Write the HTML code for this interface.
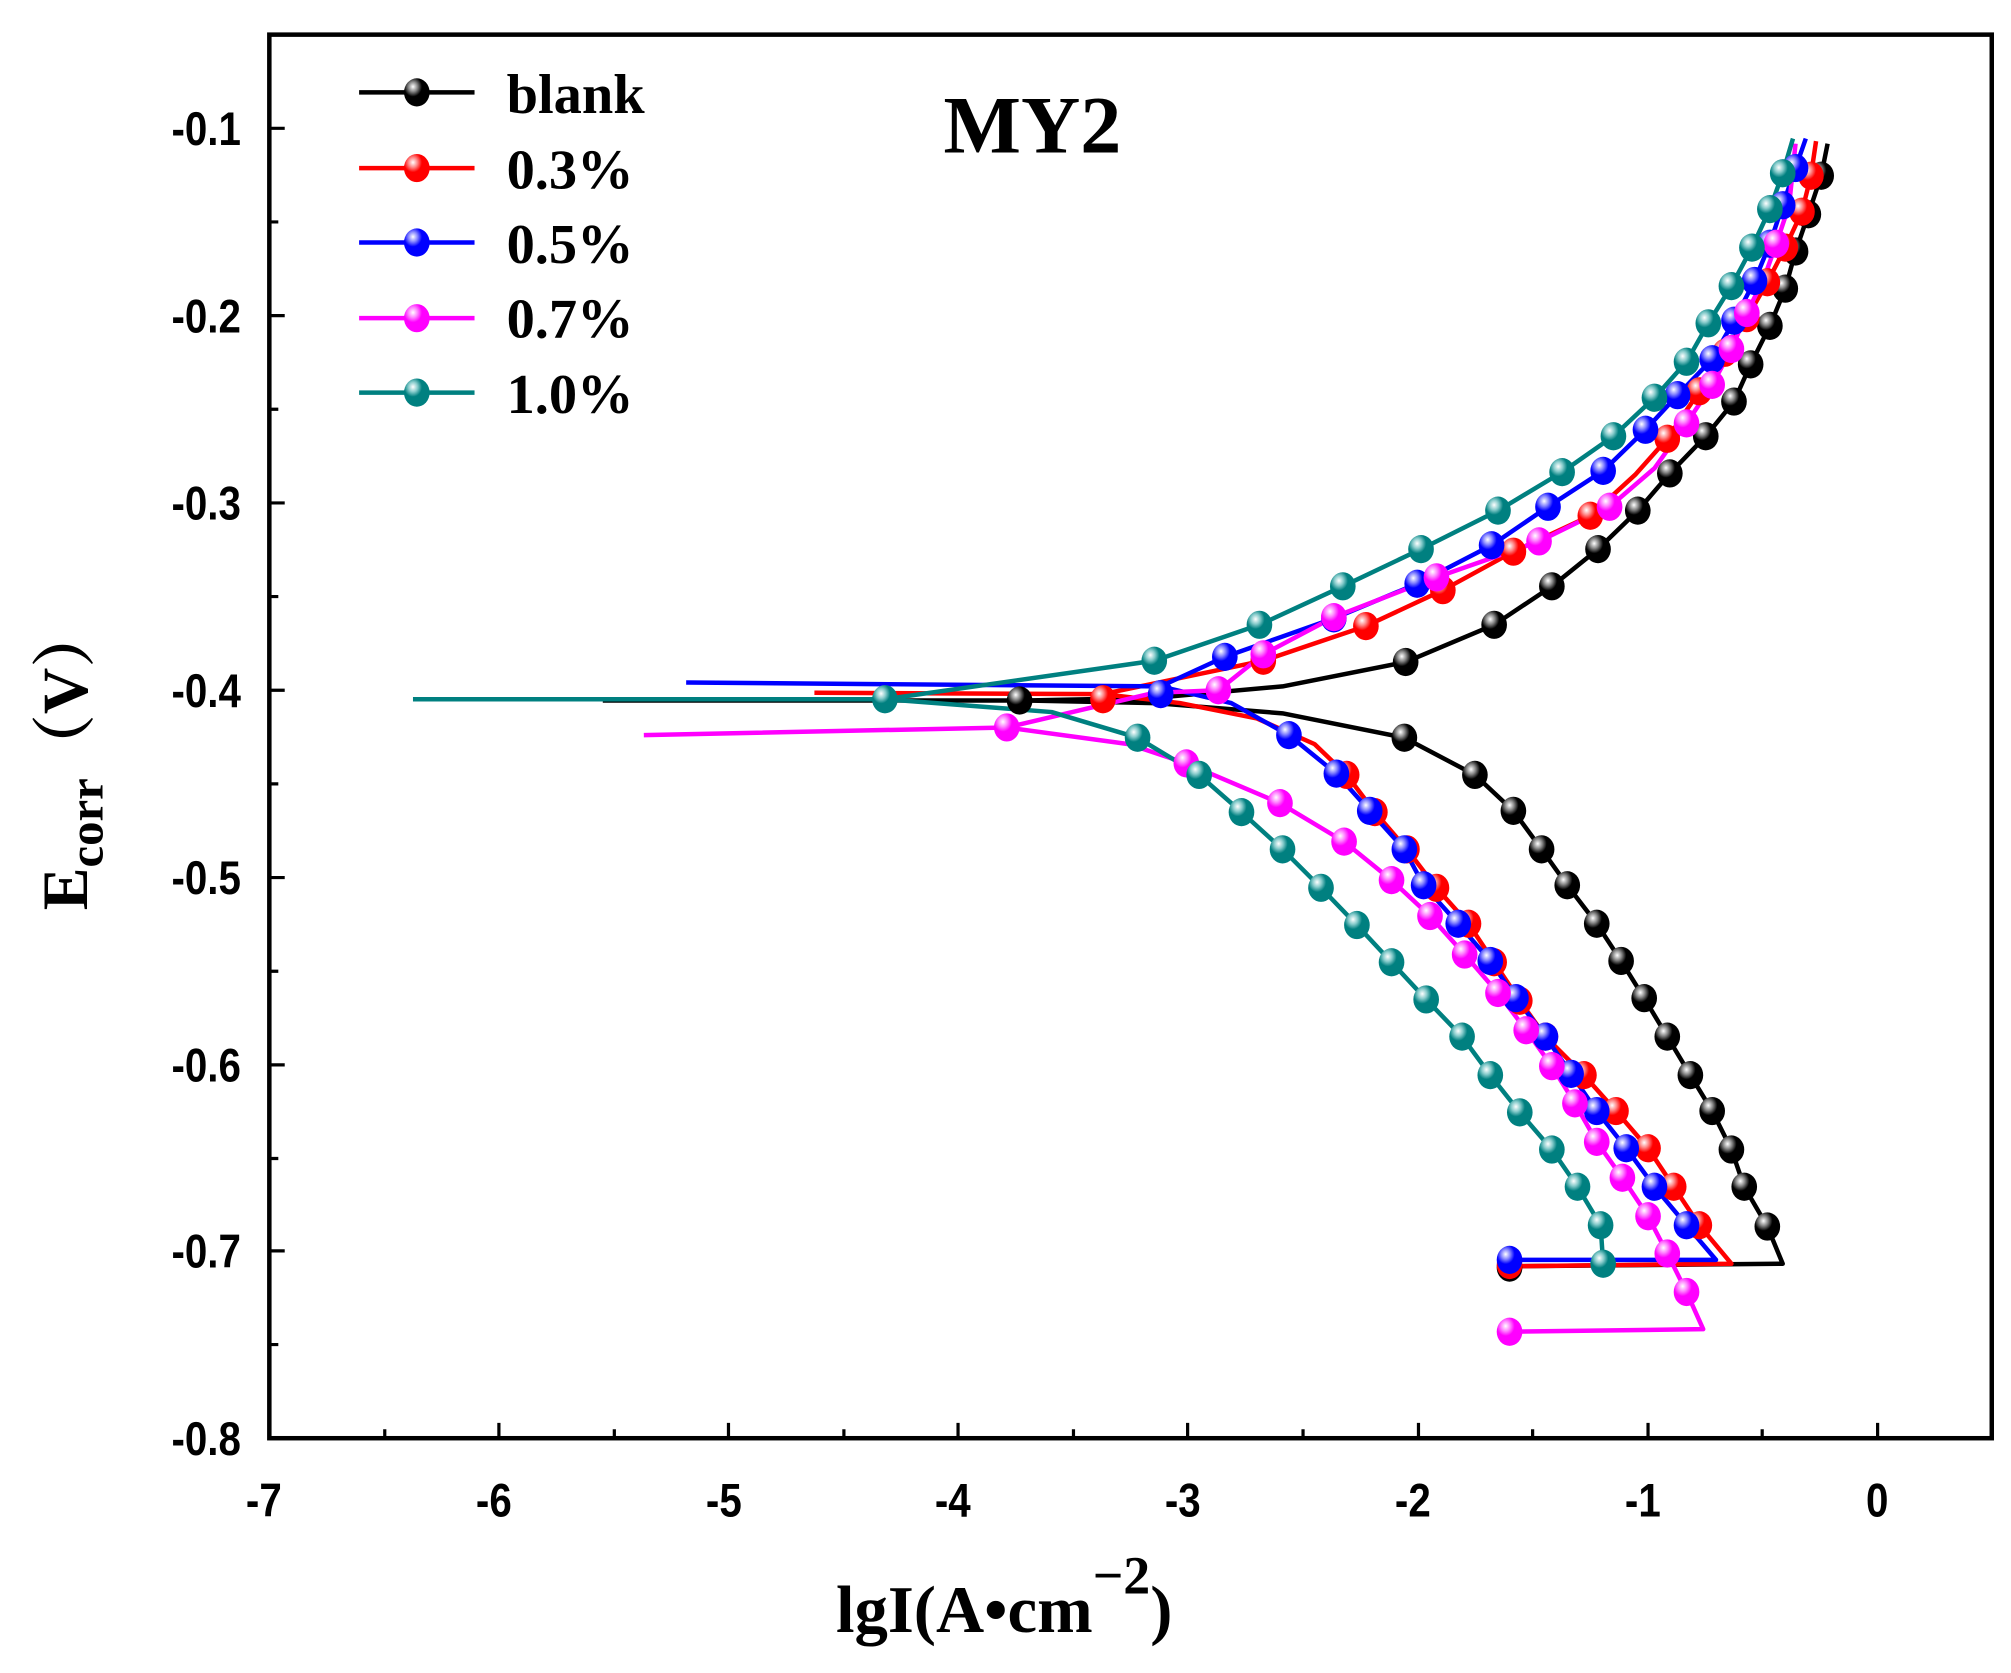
<!DOCTYPE html>
<html><head><meta charset="utf-8"><style>html,body{margin:0;padding:0;background:#fff}svg{display:block}</style></head>
<body>
<svg width="2011" height="1673" viewBox="0 0 1568 1304" preserveAspectRatio="none" xmlns="http://www.w3.org/2000/svg">
<defs>
<radialGradient id="gk" cx="0.35" cy="0.3" r="0.7"><stop offset="0" stop-color="#fff"/><stop offset="0.25" stop-color="#888"/><stop offset="0.5" stop-color="#000"/></radialGradient>
<radialGradient id="gr" cx="0.35" cy="0.3" r="0.7"><stop offset="0" stop-color="#fff"/><stop offset="0.25" stop-color="#f88"/><stop offset="0.5" stop-color="#f00"/></radialGradient>
<radialGradient id="gb" cx="0.35" cy="0.3" r="0.7"><stop offset="0" stop-color="#fff"/><stop offset="0.25" stop-color="#88f"/><stop offset="0.5" stop-color="#00f"/></radialGradient>
<radialGradient id="gm" cx="0.35" cy="0.3" r="0.7"><stop offset="0" stop-color="#fff"/><stop offset="0.25" stop-color="#f8f"/><stop offset="0.5" stop-color="#f0f"/></radialGradient>
<radialGradient id="gt" cx="0.35" cy="0.3" r="0.7"><stop offset="0" stop-color="#fff"/><stop offset="0.25" stop-color="#8cc"/><stop offset="0.5" stop-color="#008080"/></radialGradient>
</defs>
<g fill="none" stroke-width="3.5" stroke-linejoin="round">
<polyline stroke="#000" points="470,546 800,546 900,544 1000,535 1096,516 1165,487 1210,457 1246,428 1277,398 1302,369 1330,340 1352,313 1365,284 1380,254 1392,225 1400,196 1410,167 1420,137 1425,112"/>
<polyline stroke="#000" points="800,546 900,548 1000,556 1095,575 1150,604 1180,632 1202,662 1222,690 1245,720 1264,749 1282,778 1300,808 1318,838 1335,866 1350,896 1360,925 1378,956 1390,985 1175,987"/>
<polyline stroke="#f00" points="635,540 860,541 985,515 1065,488 1125,460 1180,430 1240,402 1275,370 1300,342 1325,305 1345,275 1362,248 1378,220 1392,193 1405,165 1412,137 1416,110"/>
<polyline stroke="#f00" points="860,541 920,548 980,560 1025,580 1050,604 1072,633 1097,662 1120,692 1145,720 1165,750 1185,780 1205,808 1235,838 1260,866 1285,895 1305,925 1325,955 1350,985 1175,987"/>
<polyline stroke="#00f" points="535,532 905,535 955,512 1040,482 1105,455 1163,425 1207,395 1250,367 1283,335 1308,308 1335,280 1352,250 1368,219 1380,190 1390,160 1400,131 1408,108"/>
<polyline stroke="#00f" points="905,535 960,548 1005,573 1042,603 1068,632 1095,662 1110,690 1137,720 1162,749 1182,778 1205,808 1225,837 1245,866 1268,895 1290,925 1315,955 1338,982 1175,982"/>
<polyline stroke="#f0f" points="502,573 785,567 900,540 950,538 985,510 1040,481 1120,450 1200,422 1255,395 1290,365 1315,330 1335,300 1350,272 1362,244 1375,218 1385,190 1395,160 1400,112"/>
<polyline stroke="#f0f" points="785,567 880,580 925,595 998,626 1048,656 1085,686 1115,714 1142,744 1168,774 1190,803 1210,831 1228,860 1245,890 1265,918 1285,948 1300,977 1315,1007 1328,1036 1175,1038"/>
<polyline stroke="#008080" points="322,545 690,545 900,515 982,487 1047,457 1108,428 1168,398 1218,368 1258,340 1290,310 1315,282 1332,252 1350,223 1366,193 1380,163 1390,135 1398,108"/>
<polyline stroke="#008080" points="690,545 820,555 887,575 935,604 968,633 1000,662 1030,692 1058,721 1085,750 1112,779 1140,808 1162,838 1185,867 1210,896 1230,925 1248,955 1250,985"/>
</g>
<g stroke="none">
<g fill="url(#gk)">
<ellipse cx="1420" cy="137" rx="10" ry="11"/><ellipse cx="1410" cy="167" rx="10" ry="11"/><ellipse cx="1400" cy="196" rx="10" ry="11"/><ellipse cx="1392" cy="225" rx="10" ry="11"/><ellipse cx="1380" cy="254" rx="10" ry="11"/><ellipse cx="1365" cy="284" rx="10" ry="11"/><ellipse cx="1352" cy="313" rx="10" ry="11"/><ellipse cx="1330" cy="340" rx="10" ry="11"/><ellipse cx="1302" cy="369" rx="10" ry="11"/><ellipse cx="1277" cy="398" rx="10" ry="11"/><ellipse cx="1246" cy="428" rx="10" ry="11"/><ellipse cx="1210" cy="457" rx="10" ry="11"/><ellipse cx="1165" cy="487" rx="10" ry="11"/><ellipse cx="1096" cy="516" rx="10" ry="11"/><ellipse cx="795" cy="546" rx="10" ry="11"/>
<ellipse cx="1095" cy="575" rx="10" ry="11"/><ellipse cx="1150" cy="604" rx="10" ry="11"/><ellipse cx="1180" cy="632" rx="10" ry="11"/><ellipse cx="1202" cy="662" rx="10" ry="11"/><ellipse cx="1222" cy="690" rx="10" ry="11"/><ellipse cx="1245" cy="720" rx="10" ry="11"/><ellipse cx="1264" cy="749" rx="10" ry="11"/><ellipse cx="1282" cy="778" rx="10" ry="11"/><ellipse cx="1300" cy="808" rx="10" ry="11"/><ellipse cx="1318" cy="838" rx="10" ry="11"/><ellipse cx="1335" cy="866" rx="10" ry="11"/><ellipse cx="1350" cy="896" rx="10" ry="11"/><ellipse cx="1360" cy="925" rx="10" ry="11"/><ellipse cx="1378" cy="956" rx="10" ry="11"/><ellipse cx="1177" cy="988" rx="10" ry="11"/>
</g>
<g fill="url(#gr)">
<ellipse cx="1412" cy="137" rx="10" ry="11"/><ellipse cx="1405" cy="165" rx="10" ry="11"/><ellipse cx="1392" cy="193" rx="10" ry="11"/><ellipse cx="1378" cy="220" rx="10" ry="11"/><ellipse cx="1362" cy="248" rx="10" ry="11"/><ellipse cx="1345" cy="275" rx="10" ry="11"/><ellipse cx="1325" cy="305" rx="10" ry="11"/><ellipse cx="1300" cy="342" rx="10" ry="11"/><ellipse cx="1240" cy="402" rx="10" ry="11"/><ellipse cx="1180" cy="430" rx="10" ry="11"/><ellipse cx="1125" cy="460" rx="10" ry="11"/><ellipse cx="1065" cy="488" rx="10" ry="11"/><ellipse cx="985" cy="515" rx="10" ry="11"/><ellipse cx="860" cy="545" rx="10" ry="11"/>
<ellipse cx="1050" cy="604" rx="10" ry="11"/><ellipse cx="1072" cy="633" rx="10" ry="11"/><ellipse cx="1097" cy="662" rx="10" ry="11"/><ellipse cx="1120" cy="692" rx="10" ry="11"/><ellipse cx="1145" cy="720" rx="10" ry="11"/><ellipse cx="1165" cy="750" rx="10" ry="11"/><ellipse cx="1185" cy="780" rx="10" ry="11"/><ellipse cx="1205" cy="808" rx="10" ry="11"/><ellipse cx="1235" cy="838" rx="10" ry="11"/><ellipse cx="1260" cy="866" rx="10" ry="11"/><ellipse cx="1285" cy="895" rx="10" ry="11"/><ellipse cx="1305" cy="925" rx="10" ry="11"/><ellipse cx="1325" cy="955" rx="10" ry="11"/><ellipse cx="1177" cy="986" rx="10" ry="11"/>
</g>
<g fill="url(#gb)">
<ellipse cx="1400" cy="131" rx="10" ry="11"/><ellipse cx="1390" cy="160" rx="10" ry="11"/><ellipse cx="1380" cy="190" rx="10" ry="11"/><ellipse cx="1368" cy="219" rx="10" ry="11"/><ellipse cx="1352" cy="250" rx="10" ry="11"/><ellipse cx="1335" cy="280" rx="10" ry="11"/><ellipse cx="1308" cy="308" rx="10" ry="11"/><ellipse cx="1283" cy="335" rx="10" ry="11"/><ellipse cx="1250" cy="367" rx="10" ry="11"/><ellipse cx="1207" cy="395" rx="10" ry="11"/><ellipse cx="1163" cy="425" rx="10" ry="11"/><ellipse cx="1105" cy="455" rx="10" ry="11"/><ellipse cx="1040" cy="482" rx="10" ry="11"/><ellipse cx="955" cy="512" rx="10" ry="11"/><ellipse cx="905" cy="541" rx="10" ry="11"/>
<ellipse cx="1005" cy="573" rx="10" ry="11"/><ellipse cx="1042" cy="603" rx="10" ry="11"/><ellipse cx="1068" cy="632" rx="10" ry="11"/><ellipse cx="1095" cy="662" rx="10" ry="11"/><ellipse cx="1110" cy="690" rx="10" ry="11"/><ellipse cx="1137" cy="720" rx="10" ry="11"/><ellipse cx="1162" cy="749" rx="10" ry="11"/><ellipse cx="1182" cy="778" rx="10" ry="11"/><ellipse cx="1205" cy="808" rx="10" ry="11"/><ellipse cx="1225" cy="837" rx="10" ry="11"/><ellipse cx="1245" cy="866" rx="10" ry="11"/><ellipse cx="1268" cy="895" rx="10" ry="11"/><ellipse cx="1290" cy="925" rx="10" ry="11"/><ellipse cx="1315" cy="955" rx="10" ry="11"/><ellipse cx="1177" cy="982" rx="10" ry="11"/>
</g>
<g fill="url(#gm)">
<ellipse cx="1385" cy="190" rx="10" ry="11"/><ellipse cx="1362" cy="244" rx="10" ry="11"/><ellipse cx="1350" cy="272" rx="10" ry="11"/><ellipse cx="1335" cy="300" rx="10" ry="11"/><ellipse cx="1315" cy="330" rx="10" ry="11"/><ellipse cx="1255" cy="395" rx="10" ry="11"/><ellipse cx="1200" cy="422" rx="10" ry="11"/><ellipse cx="1120" cy="450" rx="10" ry="11"/><ellipse cx="1040" cy="481" rx="10" ry="11"/><ellipse cx="985" cy="510" rx="10" ry="11"/><ellipse cx="950" cy="538" rx="10" ry="11"/><ellipse cx="785" cy="567" rx="10" ry="11"/>
<ellipse cx="925" cy="595" rx="10" ry="11"/><ellipse cx="998" cy="626" rx="10" ry="11"/><ellipse cx="1048" cy="656" rx="10" ry="11"/><ellipse cx="1085" cy="686" rx="10" ry="11"/><ellipse cx="1115" cy="714" rx="10" ry="11"/><ellipse cx="1142" cy="744" rx="10" ry="11"/><ellipse cx="1168" cy="774" rx="10" ry="11"/><ellipse cx="1190" cy="803" rx="10" ry="11"/><ellipse cx="1210" cy="831" rx="10" ry="11"/><ellipse cx="1228" cy="860" rx="10" ry="11"/><ellipse cx="1245" cy="890" rx="10" ry="11"/><ellipse cx="1265" cy="918" rx="10" ry="11"/><ellipse cx="1285" cy="948" rx="10" ry="11"/><ellipse cx="1300" cy="977" rx="10" ry="11"/><ellipse cx="1315" cy="1007" rx="10" ry="11"/><ellipse cx="1177" cy="1038" rx="10" ry="11"/>
</g>
<g fill="url(#gt)">
<ellipse cx="1390" cy="135" rx="10" ry="11"/><ellipse cx="1380" cy="163" rx="10" ry="11"/><ellipse cx="1366" cy="193" rx="10" ry="11"/><ellipse cx="1350" cy="223" rx="10" ry="11"/><ellipse cx="1332" cy="252" rx="10" ry="11"/><ellipse cx="1315" cy="282" rx="10" ry="11"/><ellipse cx="1290" cy="310" rx="10" ry="11"/><ellipse cx="1258" cy="340" rx="10" ry="11"/><ellipse cx="1218" cy="368" rx="10" ry="11"/><ellipse cx="1168" cy="398" rx="10" ry="11"/><ellipse cx="1108" cy="428" rx="10" ry="11"/><ellipse cx="1047" cy="457" rx="10" ry="11"/><ellipse cx="982" cy="487" rx="10" ry="11"/><ellipse cx="900" cy="515" rx="10" ry="11"/><ellipse cx="690" cy="545" rx="10" ry="11"/>
<ellipse cx="887" cy="575" rx="10" ry="11"/><ellipse cx="935" cy="604" rx="10" ry="11"/><ellipse cx="968" cy="633" rx="10" ry="11"/><ellipse cx="1000" cy="662" rx="10" ry="11"/><ellipse cx="1030" cy="692" rx="10" ry="11"/><ellipse cx="1058" cy="721" rx="10" ry="11"/><ellipse cx="1085" cy="750" rx="10" ry="11"/><ellipse cx="1112" cy="779" rx="10" ry="11"/><ellipse cx="1140" cy="808" rx="10" ry="11"/><ellipse cx="1162" cy="838" rx="10" ry="11"/><ellipse cx="1185" cy="867" rx="10" ry="11"/><ellipse cx="1210" cy="896" rx="10" ry="11"/><ellipse cx="1230" cy="925" rx="10" ry="11"/><ellipse cx="1248" cy="955" rx="10" ry="11"/><ellipse cx="1250" cy="985" rx="10" ry="11"/>
</g>
</g>
<rect x="210" y="27" width="1343" height="1094" fill="none" stroke="#000" stroke-width="3.5"/>
<g stroke="#000" stroke-width="2.5">
<path d="M210,1121v-12M389,1121v-12M568,1121v-12M747,1121v-12M926,1121v-12M1106,1121v-12M1285,1121v-12M1464,1121v-12"/>
<path d="M300,1121v-7M479,1121v-7M658,1121v-7M837,1121v-7M1016,1121v-7M1195,1121v-7M1374,1121v-7"/>
<path d="M210,100h12M210,246h12M210,392h12M210,538h12M210,684h12M210,830h12M210,975h12"/>
<path d="M210,173h7M210,319h7M210,465h7M210,611h7M210,757h7M210,903h7M210,1048h7"/>
</g>
<g font-family="Liberation Sans, sans-serif" font-weight="bold" font-size="37" fill="#000" text-anchor="end" transform="scale(0.85,1)">
<text x="221" y="113">-0.1</text><text x="221" y="259">-0.2</text><text x="221" y="405">-0.3</text><text x="221" y="551">-0.4</text><text x="221" y="697">-0.5</text><text x="221" y="843">-0.6</text><text x="221" y="988">-0.7</text><text x="221" y="1134">-0.8</text>
</g>
<g font-family="Liberation Sans, sans-serif" font-weight="bold" font-size="37" fill="#000" text-anchor="middle" transform="scale(0.85,1)">
<text x="242" y="1182">-7</text><text x="453" y="1182">-6</text><text x="664" y="1182">-5</text><text x="874" y="1182">-4</text><text x="1085" y="1182">-3</text><text x="1296" y="1182">-2</text><text x="1507" y="1182">-1</text><text x="1722" y="1182">0</text>
</g>
<text x="783" y="1272" text-anchor="middle" font-family="Liberation Serif, serif" font-weight="bold" font-size="52">lgI(A•cm<tspan dy="-30" font-size="42">−2</tspan><tspan dy="30">)</tspan></text>
<text transform="translate(68,590) rotate(-90)" text-anchor="middle" font-family="Liberation Serif, 'Noto Serif CJK SC', serif" font-weight="bold" font-size="50">E<tspan dy="12" font-size="38">corr</tspan><tspan dy="-12">（V）</tspan></text>
<text x="805" y="119" text-anchor="middle" font-family="Liberation Serif, serif" font-weight="bold" font-size="64">MY2</text>
<g stroke-width="3.5">
<line x1="280" y1="72" x2="370" y2="72" stroke="#000"/><ellipse cx="325" cy="72" rx="10" ry="11" fill="url(#gk)"/>
<line x1="280" y1="131" x2="370" y2="131" stroke="#f00"/><ellipse cx="325" cy="131" rx="10" ry="11" fill="url(#gr)"/>
<line x1="280" y1="189" x2="370" y2="189" stroke="#00f"/><ellipse cx="325" cy="189" rx="10" ry="11" fill="url(#gb)"/>
<line x1="280" y1="248" x2="370" y2="248" stroke="#f0f"/><ellipse cx="325" cy="248" rx="10" ry="11" fill="url(#gm)"/>
<line x1="280" y1="306" x2="370" y2="306" stroke="#008080"/><ellipse cx="325" cy="306" rx="10" ry="11" fill="url(#gt)"/>
</g>
<g font-family="Liberation Serif, serif" font-weight="bold" font-size="44" fill="#000">
<text x="395" y="88">blank</text><text x="395" y="147">0.3%</text><text x="395" y="205">0.5%</text><text x="395" y="263">0.7%</text><text x="395" y="322">1.0%</text>
</g>
</svg>
</body></html>
